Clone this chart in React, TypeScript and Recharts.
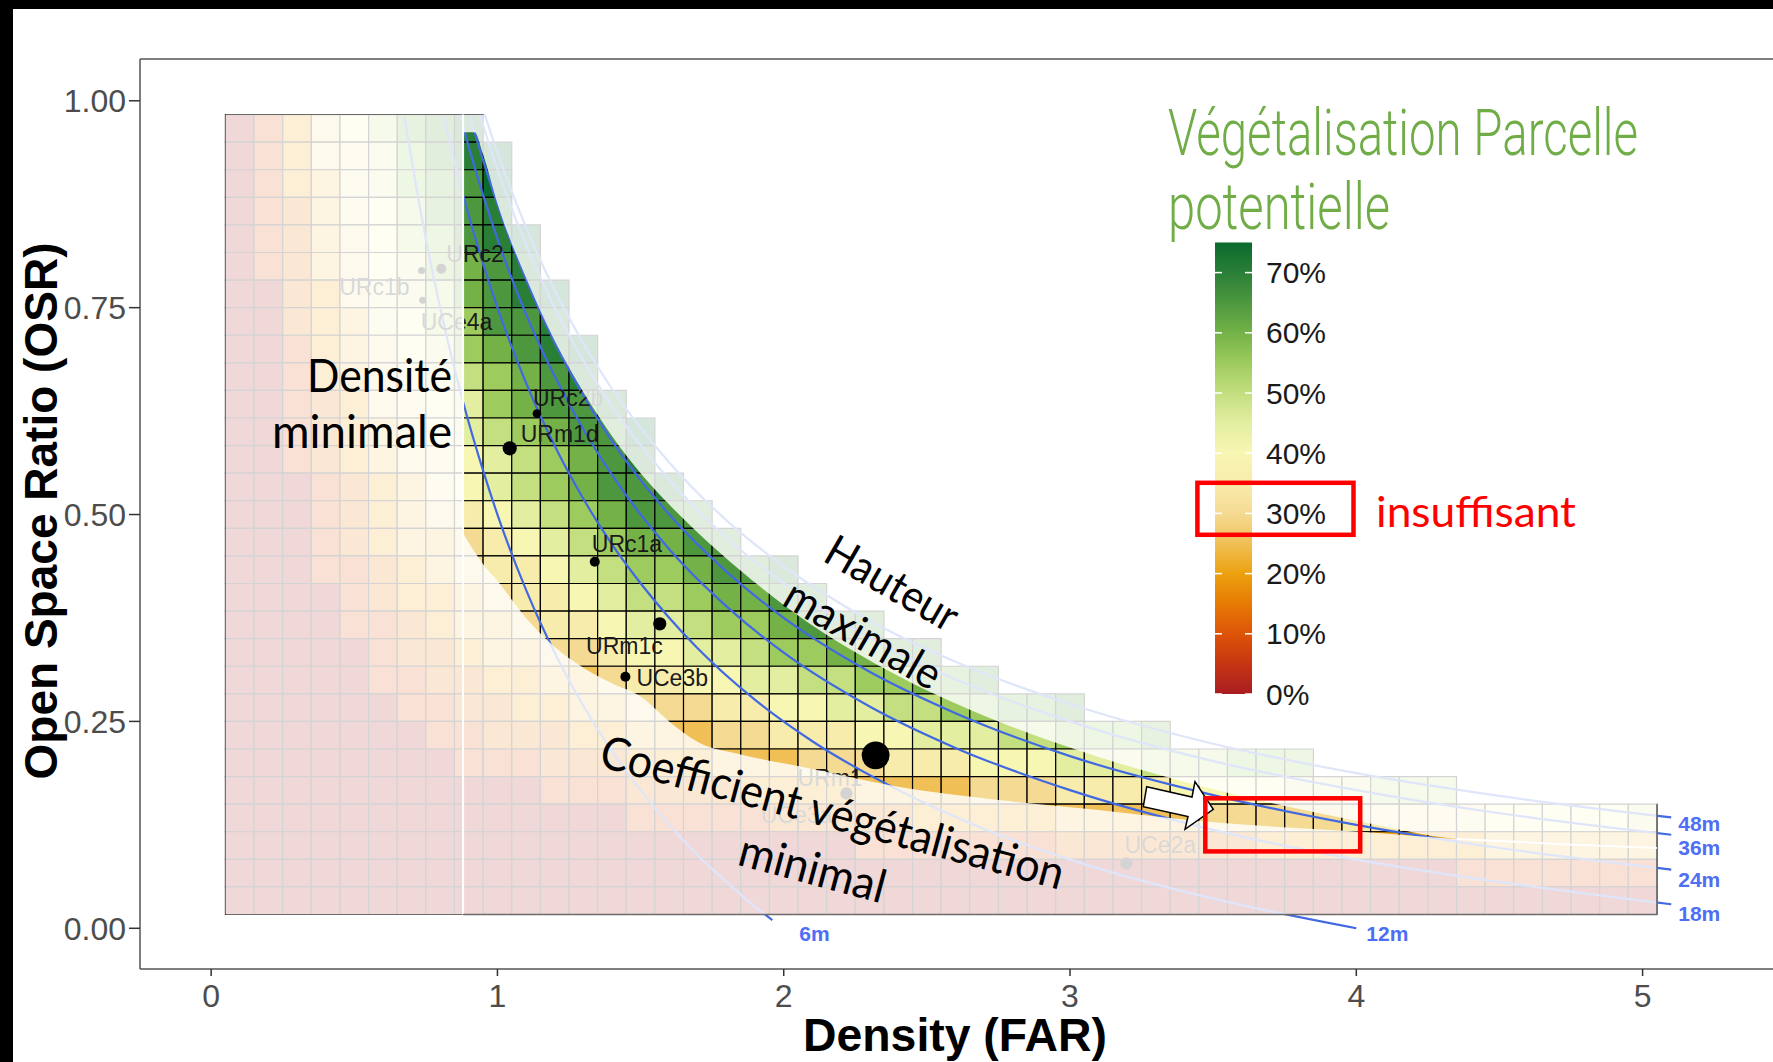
import React from 'react';
import {
  ComposedChart,
  XAxis,
  YAxis,
  Line,
  Area,
  Scatter,
  ReferenceArea,
  ReferenceLine,
} from 'recharts';

const farTicks = [0, 1, 2, 3, 4, 5];
const osrTicks = [0, 0.25, 0.5, 0.75, 1];

// Tile grid: 0.1 FAR wide, 1/30 OSR tall
const farStep = 0.1;
const osrStep = 1 / 30;
const TILE_TOP = 59 / 60;
const TILE_BOTTOM = 1 / 60;
const TILE_RIGHT = 5.05;
const MIN_DENSITY = 0.88;

// Vegetation potential per tile, one hex digit per 5 % step (0 -> 0 %, f -> 75 %).
// Rows run from OSR 29/30 down to 1/30, columns from FAR 0.1 upward;
// a row stops where the 48 m envelope cuts it.
const vegRows = [
  '02468acde',
  '024679bdef',
  '024579bcdf',
  '023578acde',
  '023568abdef',
  '0235689bcde',
  '0034679acdef',
  '0034578abdde',
  '00245689bcdef',
  '00245679abcde',
  '002346789bcdde',
  '002345689abcddf',
  '0023456789abcde',
  '0002345789abcdde',
  '00023456789abcddd',
  '000234556789abccdd',
  '0002234567789abbcdde',
  '00002344567789aabccdd',
  '0000223455677899abbcddd',
  '000002334556678899abbccdd',
  '00000223344556778899aabbccd',
  '00000022334455666778899aabbccd',
  '000000022333445556677788999aabbbc',
  '00000000222333444555666777888999aaabbb',
  '0000000000022233334444555566677778888999aaa',
  '00000000000000222223333344444555556666677777888889',
  '00000000000000000000002222222333333344444444555555',
  '00000000000000000000000000000000000000000002222222',
  '00000000000000000000000000000000000000000000000000',
];

const vegPalette = [
  '#a81d22', '#c63512', '#dd5408', '#e77a04', '#eca10f', '#f0c056', '#f5da94', '#f8ecac',
  '#f8f6b3', '#e3eea0', '#c3df80', '#9dcb5e', '#74b248', '#4d983f', '#2a7f37', '#0a6a2f',
];
const legendTicks = [0, 10, 20, 30, 40, 50, 60, 70];

// Height envelopes (FAR, OSR)
const curve6m = [
  [0.675, 0.981], [0.7, 0.929], [0.75, 0.833], [0.8, 0.75], [0.88, 0.636], [0.95, 0.553],
  [1.0, 0.5], [1.1, 0.409], [1.2, 0.333], [1.3, 0.269], [1.4, 0.214], [1.5, 0.167],
  [1.6, 0.125], [1.7, 0.088], [1.8, 0.056], [1.9, 0.026], [1.96, 0.01],
];
const curve12m = [
  [0.812, 0.981], [0.85, 0.926], [0.9, 0.861], [0.95, 0.803], [1.0, 0.75], [1.1, 0.659],
  [1.2, 0.583], [1.3, 0.519], [1.4, 0.464], [1.5, 0.417], [1.7, 0.338], [1.9, 0.276],
  [2.1, 0.226], [2.4, 0.167], [2.7, 0.12], [3.0, 0.083], [3.3, 0.053], [3.6, 0.028], [4.0, 0.0],
];
const curve18m = [
  [0.87, 0.983], [0.9, 0.944], [0.95, 0.886], [1.0, 0.833], [1.1, 0.742], [1.2, 0.667],
  [1.3, 0.603], [1.4, 0.548], [1.6, 0.458], [1.8, 0.389], [2.0, 0.333], [2.3, 0.268],
  [2.6, 0.218], [3.0, 0.167], [3.5, 0.119], [4.0, 0.083], [4.5, 0.056], [5.1, 0.029],
];
const curve24m = [
  [0.903, 0.982], [0.95, 0.928], [1.0, 0.875], [1.1, 0.784], [1.2, 0.708], [1.3, 0.644],
  [1.4, 0.589], [1.6, 0.5], [1.8, 0.431], [2.0, 0.375], [2.3, 0.31], [2.6, 0.26],
  [3.0, 0.208], [3.5, 0.161], [4.0, 0.125], [4.5, 0.097], [5.1, 0.071],
];
const curve36m = [
  [0.938, 0.983], [1.0, 0.917], [1.1, 0.826], [1.2, 0.75], [1.3, 0.686], [1.4, 0.631],
  [1.6, 0.542], [1.8, 0.472], [2.0, 0.417], [2.3, 0.351], [2.6, 0.301], [3.0, 0.25],
  [3.5, 0.202], [4.0, 0.167], [4.5, 0.139], [5.1, 0.113],
];
const curve48m = [
  [0.956, 0.983], [1.0, 0.9375], [1.1, 0.847], [1.2, 0.771], [1.3, 0.707], [1.4, 0.652],
  [1.6, 0.563], [1.8, 0.493], [2.0, 0.4375], [2.3, 0.372], [2.6, 0.322], [3.0, 0.271],
  [3.5, 0.223], [4.0, 0.1875], [4.5, 0.16], [5.1, 0.134],
];
const heightCurves = [
  { name: '6m', pts: curve6m },
  { name: '12m', pts: curve12m },
  { name: '18m', pts: curve18m },
  { name: '24m', pts: curve24m },
  { name: '36m', pts: curve36m },
  { name: '48m', pts: curve48m },
];

// Feasible band: max height above, minimum vegetation coefficient below
const boundFar = [0.88, 0.92, 0.95, 1.0, 1.1, 1.2, 1.3, 1.4, 1.5, 1.6, 1.7, 1.85, 2.05, 2.4, 2.75, 3.1, 3.5, 4.0, 4.35, 4.7, 5.05];
const maxHeightOsr = [0.962, 0.962, 0.935, 0.876, 0.786, 0.71, 0.648, 0.595, 0.55, 0.512, 0.478, 0.432, 0.378, 0.305, 0.25, 0.207, 0.168, 0.13, 0.108, 0.102, 0.097];
const minGreenOsr = [0.477, 0.455, 0.44, 0.42, 0.375, 0.34, 0.315, 0.296, 0.28, 0.25, 0.225, 0.21, 0.196, 0.171, 0.155, 0.143, 0.128, 0.117, 0.108, 0.102, 0.097];

// Parcels
const parcelNames = ['URc2', 'URc1b', 'UCe4a', 'URc2b', 'URm1d', 'URc1a', 'URm1c', 'UCe3b', 'URm1', 'UCe3a', 'UCe2a'];
const parcelFar = [0.804, 0.735, 0.739, 1.138, 1.043, 1.34, 1.567, 1.447, 2.321, 2.219, 3.197];
const parcelOsr = [0.797, 0.795, 0.759, 0.622, 0.58, 0.443, 0.368, 0.304, 0.209, 0.163, 0.0785];
const parcelCount = [4, 2, 2, 3, 8, 4, 7, 4, 31, 6, 6];

const parcelLabelOffset: Record<string, [number, number, 'start' | 'end']> = {
  URc2: [5, -15, 'start'],
  URc1b: [-12, 17, 'end'],
  UCe4a: [-2, 22, 'start'],
  URc2b: [-4, -16, 'start'],
  URm1d: [11, -14, 'start'],
  URc1a: [-3, -18, 'start'],
  URm1c: [3, 22, 'end'],
  UCe3b: [11, 1, 'start'],
  URm1: [-13, 23, 'end'],
  UCe3a: [-14, 22, 'end'],
  UCe2a: [-2, -18, 'start'],
};
const curveLabelOffset: Record<string, [number, number]> = {
  '6m': [27, 13],
  '12m': [10, 5],
  '18m': [7, 9],
  '24m': [7, 10],
  '36m': [7, 13],
  '48m': [7, 6],
};

const tiles = vegRows.flatMap((row, i) =>
  row.split('').map((ch, j) => ({
    far: (j + 1) * farStep,
    osr: (vegRows.length - i) * osrStep,
    level: parseInt(ch, 16),
  })),
);
const envelope = boundFar.map((far, i) => ({ far, upper: maxHeightOsr[i], lower: minGreenOsr[i] }));
const parcels = parcelNames.map((name, i) => ({ name, far: parcelFar[i], osr: parcelOsr[i], count: parcelCount[i] }));
const curveEnds = heightCurves.map((c) => {
  const [far, osr] = c.pts[c.pts.length - 1];
  return { name: c.name, far, osr };
});

const BLUE = '#4169e1';
const SANS = '"Liberation Sans", Arial, sans-serif';
const CALIBRI = 'Lato, "Open Sans", sans-serif';
const FADE = 0.83;

const renderParcel = (p: any) => {
  const { cx, cy, payload } = p;
  const [dx, dy, anchor] = parcelLabelOffset[payload.name];
  return (
    <g>
      <circle cx={cx} cy={cy} r={2.5 * Math.sqrt(payload.count)} fill="#000" />
      <text x={cx + dx} y={cy + dy} textAnchor={anchor} dominantBaseline="central"
        fontFamily={SANS} fontSize={23} fill="#1a1a1a">{payload.name}</text>
    </g>
  );
};

const renderCurveLabel = (p: any) => {
  const [dx, dy] = curveLabelOffset[p.payload.name];
  return (
    <text x={p.cx + dx} y={p.cy + dy} dominantBaseline="central" fontFamily={SANS}
      fontWeight="bold" fontSize={21} fill="#4d6ef5">{p.payload.name}</text>
  );
};

const legendY = (v: number) => 694 - v * 6.02;

const Annotations = () => (
  <svg width={1773} height={1062} style={{ position: 'absolute', left: 0, top: 0, pointerEvents: 'none' }}>
    <defs>
      <linearGradient id="vegGrad" x1="0" y1="1" x2="0" y2="0">
        {vegPalette.map((c, i) => (
          <stop key={i} offset={i / (vegPalette.length - 1)} stopColor={c} />
        ))}
      </linearGradient>
    </defs>
    {/* panel top edge */}
    <line x1={140} y1={59} x2={1773} y2={59} stroke="#555" strokeWidth={1.5} />

    {/* axis titles */}
    <text x={955} y={1051} textAnchor="middle" fontFamily={SANS} fontWeight="bold" fontSize={46}
      textLength={304} lengthAdjust="spacingAndGlyphs" fill="#000">Density (FAR)</text>
    <text transform="translate(57 511) rotate(-90)" textAnchor="middle" fontFamily={SANS} fontWeight="bold"
      fontSize={46} textLength={537} lengthAdjust="spacingAndGlyphs" fill="#000">Open Space Ratio (OSR)</text>

    {/* constraint notes */}
    <g fontFamily={CALIBRI} fontSize={46} fill="#000">
      <text x={452} y={392} textAnchor="end" textLength={145} lengthAdjust="spacingAndGlyphs">Densité</text>
      <text x={452} y={448} textAnchor="end" textLength={180} lengthAdjust="spacingAndGlyphs">minimale</text>
      <text transform="translate(893 582) rotate(30)" textAnchor="middle" dominantBaseline="central"
        fontSize={44} textLength={146} lengthAdjust="spacingAndGlyphs">Hauteur</text>
      <text transform="translate(864 633) rotate(30)" textAnchor="middle" dominantBaseline="central"
        fontSize={44} textLength={174} lengthAdjust="spacingAndGlyphs">maximale</text>
      <text transform="translate(833 811) rotate(15)" textAnchor="middle" dominantBaseline="central"
        textLength={478} lengthAdjust="spacingAndGlyphs">Coefficient végétalisation</text>
      <text transform="translate(813 867) rotate(15)" textAnchor="middle" dominantBaseline="central"
        textLength={150} lengthAdjust="spacingAndGlyphs">minimal</text>
    </g>

    {/* arrow and highlight in the plot */}
    <polygon points="1146.7,786.7 1192,797 1195,781.7 1213.3,809.3 1185,829.3 1188,816.5 1143.3,806.7"
      fill="#fff" stroke="#000" strokeWidth={1.5} strokeLinejoin="miter" />
    <rect x={1205.3} y={798.3} width={154.9} height={53.1} fill="none" stroke="#ff0000" strokeWidth={4.5} />

    {/* legend */}
    <g fontFamily="Roboto, sans-serif" fontWeight={300} fontSize={46} fill="#70ad47">
      <text transform="translate(1168 155) scale(1 1.4)" textLength={470} lengthAdjust="spacingAndGlyphs">
        Végétalisation Parcelle
      </text>
      <text transform="translate(1168 229) scale(1 1.4)" textLength={222} lengthAdjust="spacingAndGlyphs">
        potentielle
      </text>
    </g>
    <rect x={1215} y={legendY(75)} width={37} height={legendY(0) - legendY(75)} fill="url(#vegGrad)" />
    {legendTicks.map((v) => (
      <g key={v}>
        <line x1={1215} x2={1222} y1={legendY(v)} y2={legendY(v)} stroke="#fff" strokeWidth={1.5} />
        <line x1={1245} x2={1252} y1={legendY(v)} y2={legendY(v)} stroke="#fff" strokeWidth={1.5} />
        <text x={1266} y={legendY(v)} dominantBaseline="central" fontFamily={SANS} fontSize={30}
          fill="#1a1a1a">{`${v}%`}</text>
      </g>
    ))}
    <rect x={1197.4} y={482.8} width={156.1} height={52} fill="none" stroke="#ff0000" strokeWidth={4.5} />
    <text x={1376} y={527} fontFamily={CALIBRI} fontSize={42} fill="#ff0000" textLength={200}
      lengthAdjust="spacingAndGlyphs">insuffisant</text>
  </svg>
);

export default function App() {
  return (
    <div style={{ position: 'relative', width: 1773, height: 1062, background: '#000', overflow: 'hidden' }}>
      <style>{'body{margin:0;overflow:hidden;}'}</style>
      <div style={{ position: 'absolute', left: 13, top: 9, right: 0, bottom: 0, background: '#fff' }} />
      <div style={{ position: 'absolute', left: 0, top: 0 }}>
        <ComposedChart width={1773} height={1062} data={envelope}
          margin={{ top: 59, right: 0, bottom: 33, left: 40 }}>
          <XAxis type="number" dataKey="far" domain={[-0.2485, 5.4555]} allowDataOverflow ticks={farTicks}
            interval={0} height={60} tickSize={7} tickMargin={8}
            tick={{ fill: '#4d4d4d', fontSize: 32, fontFamily: SANS }}
            tickLine={{ stroke: '#333', strokeWidth: 1.5 }} axisLine={{ stroke: '#555', strokeWidth: 1.5 }} />
          <YAxis type="number" dataKey="osr" domain={[-0.0492, 1.0505]} allowDataOverflow ticks={osrTicks}
            interval={0} width={100} tickSize={11} tickMargin={3} tickFormatter={(v: number) => v.toFixed(2)}
            tick={{ fill: '#4d4d4d', fontSize: 32, fontFamily: SANS }}
            tickLine={{ stroke: '#333', strokeWidth: 1.5 }} axisLine={{ stroke: '#555', strokeWidth: 1.5 }} />

          {tiles.map((t) => (
            <ReferenceArea key={`${t.far}-${t.osr}`} x1={t.far - farStep / 2} x2={t.far + farStep / 2}
              y1={t.osr - osrStep / 2} y2={t.osr + osrStep / 2} fill={vegPalette[t.level]} fillOpacity={1}
              stroke="#000" strokeWidth={1.2} ifOverflow="visible" zIndex={1} />
          ))}

          {heightCurves.map((c) => (
            <Line key={c.name} data={c.pts.map(([far, osr]) => ({ far, osr }))} dataKey="osr" type="monotone"
              stroke={BLUE} strokeWidth={2.2} dot={false} activeDot={false} isAnimationActive={false} zIndex={2} />
          ))}

          <Scatter data={parcels} shape={renderParcel} isAnimationActive={false} zIndex={3} />

          {/* fade everything outside the feasible band */}
          <ReferenceArea x1={0.05} x2={MIN_DENSITY} y1={TILE_BOTTOM} y2={TILE_TOP} fill="#fff" fillOpacity={FADE}
            stroke="none" ifOverflow="visible" zIndex={4} />
          <Area dataKey={(d: any) => [d.upper, TILE_TOP]} type="monotone" fill="#fff" fillOpacity={FADE}
            stroke="none" activeDot={false} isAnimationActive={false} zIndex={4} />
          <Area dataKey={(d: any) => [TILE_BOTTOM, d.lower]} type="monotone" fill="#fff" fillOpacity={FADE}
            stroke="none" activeDot={false} isAnimationActive={false} zIndex={4} />

          <ReferenceLine segment={[{ x: MIN_DENSITY, y: TILE_BOTTOM }, { x: MIN_DENSITY, y: TILE_TOP }]}
            stroke="#fff" strokeWidth={2} ifOverflow="visible" zIndex={5} />
          <ReferenceLine segment={[{ x: MIN_DENSITY, y: TILE_BOTTOM }, { x: TILE_RIGHT, y: TILE_BOTTOM }]}
            stroke="#6b6b6b" strokeWidth={1.5} ifOverflow="visible" zIndex={5} />
          <ReferenceLine segment={[{ x: TILE_RIGHT, y: TILE_BOTTOM }, { x: TILE_RIGHT, y: 4.5 * osrStep }]}
            stroke="#6b6b6b" strokeWidth={1.5} ifOverflow="visible" zIndex={5} />
          <Line data={envelope.slice(-3).map((d) => ({ far: d.far, osr: d.lower }))} dataKey="osr" type="monotone"
            stroke="#fff" strokeWidth={2} dot={false} activeDot={false} isAnimationActive={false} zIndex={5} />

          <Scatter data={curveEnds} shape={renderCurveLabel} isAnimationActive={false} zIndex={6} />
        </ComposedChart>
      </div>
      <Annotations />
    </div>
  );
}
